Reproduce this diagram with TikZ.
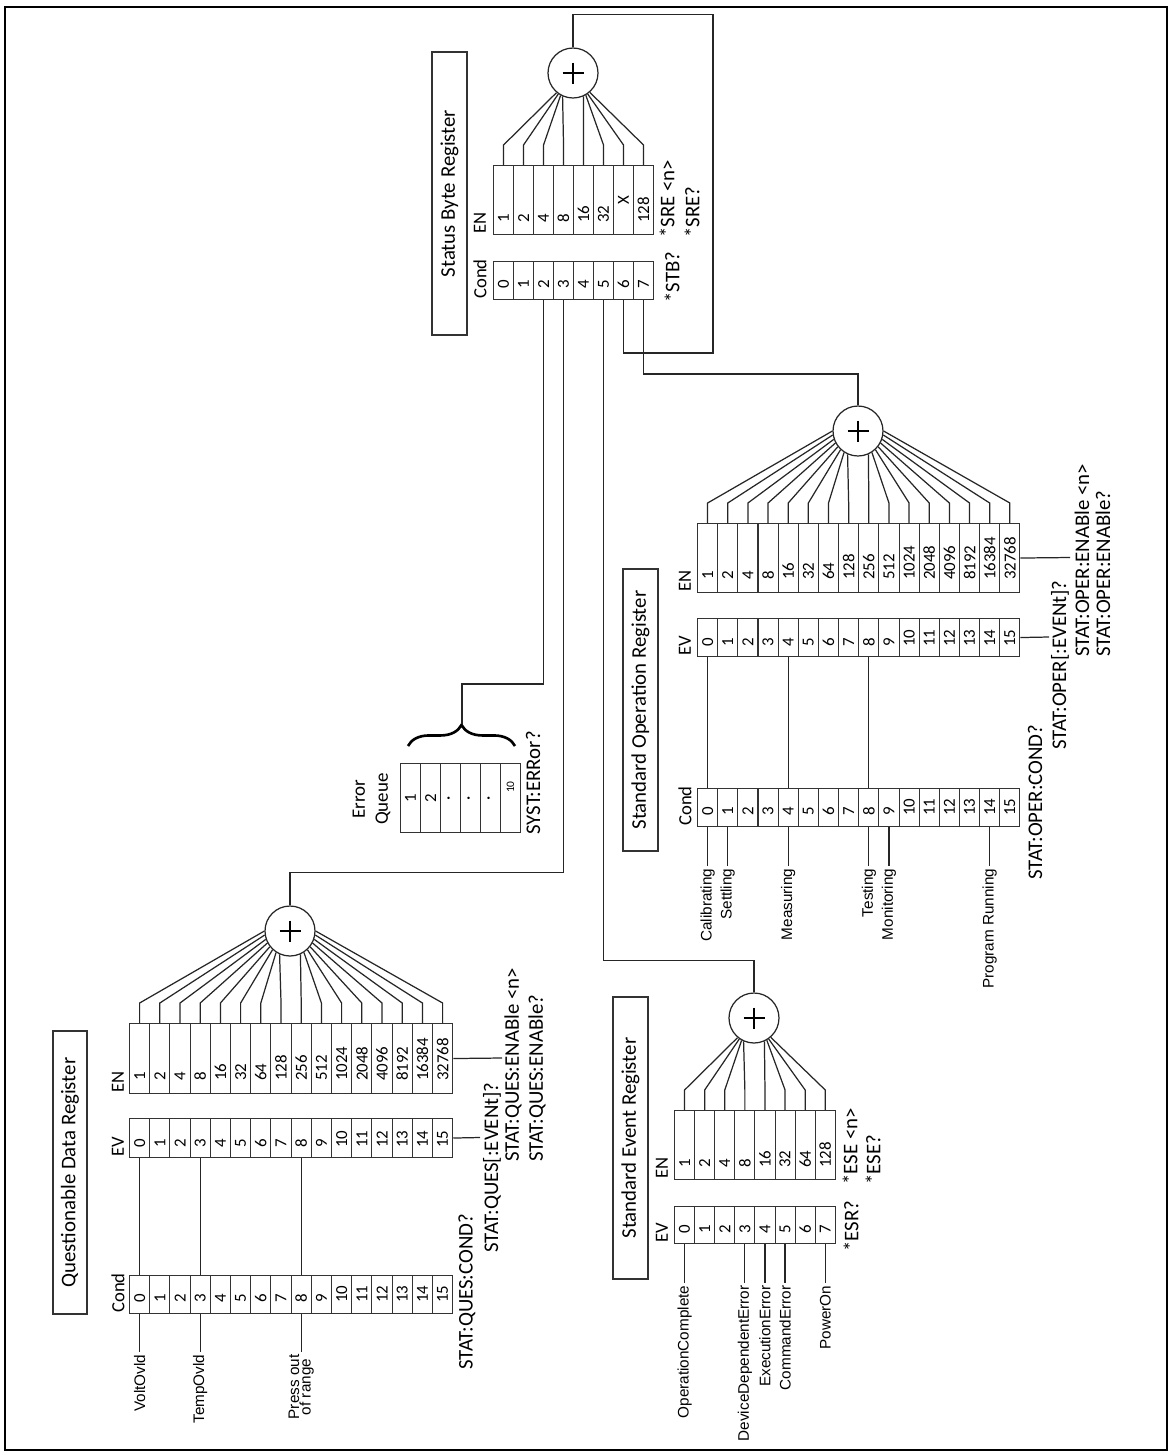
\documentclass[tikz,border=0pt]{standalone}
\usepackage{fontspec}
\setmainfont{Carlito}
\newfontfamily\sigfont{Liberation Sans}
\usetikzlibrary{decorations.pathreplacing,calc}

% #1 name prefix, #2 x0, #3 cell width, #4 y top, #5 y bottom, #6 text pad, #7 list
\newcommand\regcells[7]{%
  \foreach \t [count=\i from 0] in {#7} {%
    \node[cellbox, minimum width={#3*0.02cm}, minimum height={(#5-#4)*0.02cm}, anchor=north west] (#1\i) at ({#2+\i*#3},#4) {};
    \node[digit] at ($(#1\i.south)+(0,-#6)$) {\t};
  }%
}
% #1 sum node, #2 cell prefix, #3 n-1, #4 angular step
\newcommand\fan[4]{%
  \foreach \i in {0,...,#3} {%
    \pgfmathsetmacro\kk{\i-#3/2}%
    \pgfmathtruncatemacro\bb{round(270+\kk/abs(\kk)*(24+(abs(\kk)-0.5)*#4))}%
    \draw[wire] (#2\i.north) -- ++(0,-20) -- (#1.\bb);
  }%
}

\begin{document}
\begin{tikzpicture}[x=0.02cm,y=-0.02cm,
  wire/.style={line width=0.7pt,black!85},
  plus/.style={line width=1.2pt,black},
  cellbox/.style={draw=black!80,line width=0.6pt,inner sep=0pt},
  titlebox/.style={draw=black!80,line width=0.7pt,rotate=90,inner sep=0pt,
    font=\fontsize{11.85}{13}\selectfont},
  cmd/.style={rotate=90,inner sep=0pt,anchor=west,font=\fontsize{11.85}{13}\selectfont},
  reglabel/.style={rotate=90,inner sep=0pt,anchor=west,font=\fontsize{10.6}{12}\selectfont},
  digit/.style={rotate=90,inner sep=0pt,anchor=west,font=\fontsize{9.6}{11}\selectfont},
  sig/.style={rotate=90,inner sep=0pt,outer sep=1.5pt,anchor=east,
    font=\sigfont\fontsize{8.7}{6.6}\selectfont},
  sumnode/.style={circle,draw=black!85,line width=0.7pt,minimum size=1cm,inner sep=0pt}
]
\useasboundingbox (0,0) rectangle (1172,1455);
\fill[white] (0,0) rectangle (1172,1455);
\draw[line width=1.4pt] (5,7) rectangle (1167,1450);

%% ---------- Status Byte Register ----------
\node[titlebox, minimum width=283*0.02cm, minimum height=35*0.02cm] (sbtitle) at (449.5,193.5) {Status Byte Register};
\regcells{sen}{493}{20}{165}{234}{12}{1,2,4,8,16,32,{},128}
\node[rotate=90,inner sep=0pt,font=\fontsize{9.6}{11}\selectfont] at (sen6) {X};
\regcells{scond}{493}{20}{261}{299}{11}{0,...,7}
\node[reglabel] at (480,234) {EN};
\node[reglabel] at (480,299) {Cond};
\node[cmd] at (672,303) {*STB?};
\node[cmd] at (667,238) {*SRE <n>};
\node[cmd] at (692,238) {*SRE?};
\node[sumnode] (ssum) at (573,73) {};
\fan{ssum}{sen}{7}{5.5}

%% ---------- Questionable Data Register ----------
\node[titlebox, minimum width=283*0.02cm, minimum height=34*0.02cm] (qtitle) at (70,1172.5) {Questionable Data Register};
\regcells{qen}{129}{20.2}{1023}{1093}{13}{1,2,4,8,16,32,64,128,256,512,1024,2048,4096,8192,16384,32768}
\regcells{qev}{129}{20.2}{1118}{1157}{10}{0,...,15}
\regcells{qcond}{129}{20.2}{1275}{1313}{11}{0,...,15}
\node[reglabel] at (118,1093) {EN};
\node[reglabel] at (118,1157) {EV};
\node[reglabel] at (118,1313) {Cond};
\node[sumnode] (qsum) at (290,931) {};
\fan{qsum}{qen}{15}{9.43}
\foreach \b in {0,3,8} \draw[wire] (qev\b.south) -- (qcond\b.north);
\node[sig] (lvolt) at ($(qcond0.south)+(0,38)$) {VoltOvld};
\node[sig] (ltemp) at ($(qcond3.south)+(0,38)$) {TempOvld};
\node[sig,align=center] (lpress) at ($(qcond8.south)+(0,38)$) {Press out\\of range};
\draw[wire] (qcond0.south) -- (lvolt.east);
\draw[wire] (qcond3.south) -- (ltemp.east);
\draw[wire] (qcond8.south) -- (lpress.east);
\coordinate (qevend) at (480,1137.5);
\coordinate (qenend) at (502,1058);
\draw[wire] (qev15.east) -- (qevend);
\draw[wire] (qen15.east) -- (qenend);
\node[cmd] at (467,1370) {STAT:QUES:COND?};
\node[cmd] at (492,1253) {STAT:QUES[:EVENt]?};
\node[cmd] at (513,1162) {STAT:QUES:ENABle <n>};
\node[cmd] at (537,1162) {STAT:QUES:ENABle?};

%% ---------- Error Queue ----------
\foreach \t [count=\i from 0] in {1,2,·,·,·,{}} {%
  \node[cellbox, minimum width=20*0.02cm, minimum height=69*0.02cm, anchor=north west] (eq\i) at ({400+\i*20},763) {};
  \node[rotate=90,inner sep=0pt,font=\fontsize{9.6}{11}\selectfont] at (eq\i) {\t};
}
\node[rotate=90,inner sep=0pt,font=\fontsize{6.5}{7}\selectfont] at ($(eq5)+(0,-11)$) {10};
\node[rotate=90,align=center,inner sep=0pt,font=\fontsize{10.8}{13}\selectfont] (eqlabel) at (371.5,799) {Error\\Queue};
\node[cmd] at (533,835) {SYST:ERRor?};
\draw[decorate,decoration={brace,amplitude=12pt},line width=1.5pt] (408,746) -- (515,746);
\coordinate (eqtip) at (462,724);

%% ---------- Standard Operation Register ----------
\node[titlebox, minimum width=282*0.02cm, minimum height=35*0.02cm] (otitle) at (640.5,710) {Standard Operation Register};
\regcells{oen}{697}{20.15}{523}{592}{13}{1,2,4,8,16,32,64,128,256,512,1024,2048,4096,8192,16384,32768}
\regcells{oev}{697}{20.15}{618}{656}{10}{0,...,15}
\regcells{ocond}{697}{20.15}{788}{826}{11}{0,...,15}
\node[reglabel] at (685,592) {EN};
\node[reglabel] at (685,656) {EV};
\node[reglabel] at (685,826) {Cond};
\node[sumnode] (osum) at (858,431) {};
\fan{osum}{oen}{15}{9.43}
\foreach \b in {0,4,8} \draw[wire] (oev\b.south) -- (ocond\b.north);
\foreach \b/\lab [count=\j] in {0/Calibrating,1/Settling,4/Measuring,8/Testing,9/Monitoring,14/Program Running} {%
  \node[sig] (ol\j) at ($(ocond\b.south)+(0,39)$) {\lab};
  \draw[wire] (ocond\b.south) -- (ol\j.east);
}
\coordinate (oevend) at (1049,637);
\coordinate (oenend) at (1070,557.5);
\draw[wire] (oev15.east) -- (oevend);
\draw[wire] (oen15.east) -- (oenend);
\node[cmd] at (1035,880) {STAT:OPER:COND?};
\node[cmd] at (1060,750) {STAT:OPER[:EVENt]?};
\node[cmd] at (1082,657) {STAT:OPER:ENABle <n>};
\node[cmd] at (1103,657) {STAT:OPER:ENABle?};

%% ---------- Standard Event Register ----------
\node[titlebox, minimum width=282*0.02cm, minimum height=35*0.02cm] (etitle) at (630.5,1138) {Standard Event Register};
\regcells{een}{674}{20.1}{1110}{1179}{12}{1,2,4,8,16,32,64,128}
\regcells{eev}{674}{20.1}{1206}{1243}{10}{0,...,7}
\node[reglabel] at (662,1179) {EN};
\node[reglabel] at (662,1243) {EV};
\node[sumnode] (esum) at (754,1018) {};
\fan{esum}{een}{7}{5.5}
\foreach \b/\lab [count=\j] in {0/OperationComplete,3/DeviceDependentError,4/ExecutionError,5/CommandError,7/PowerOn} {%
  \node[sig] (el\j) at ($(eev\b.south)+(0,39)$) {\lab};
  \draw[wire] (eev\b.south) -- (el\j.east);
}
\node[cmd] at (851,1252) {*ESR?};
\node[cmd] at (850,1185) {*ESE <n>};
\node[cmd] at (873,1185) {*ESE?};

%% ---------- plus signs ----------
\foreach \s in {qsum,ssum,osum,esum}
  \draw[plus] ($(\s)+(-10.5,0)$) -- ($(\s)+(10.5,0)$) ($(\s)+(0,-10.5)$) -- ($(\s)+(0,10.5)$);

%% ---------- interconnections ----------
\draw[wire] (qsum.north) -- ++(0,-33) -| (scond3.south);
\draw[wire] (scond2.south) |- ($(eqtip)+(0,-40)$) -- (eqtip);
\draw[wire] (scond5.south) |- ($(esum.north)+(0,-32)$) -- (esum.north);
\draw[wire] (scond6.south) -- ++(0,53) -| ($(ssum.north)+(140,-33)$) -| (ssum.north);
\draw[wire] (scond7.south) -- ++(0,74) -| (osum.north);
\end{tikzpicture}
\end{document}
